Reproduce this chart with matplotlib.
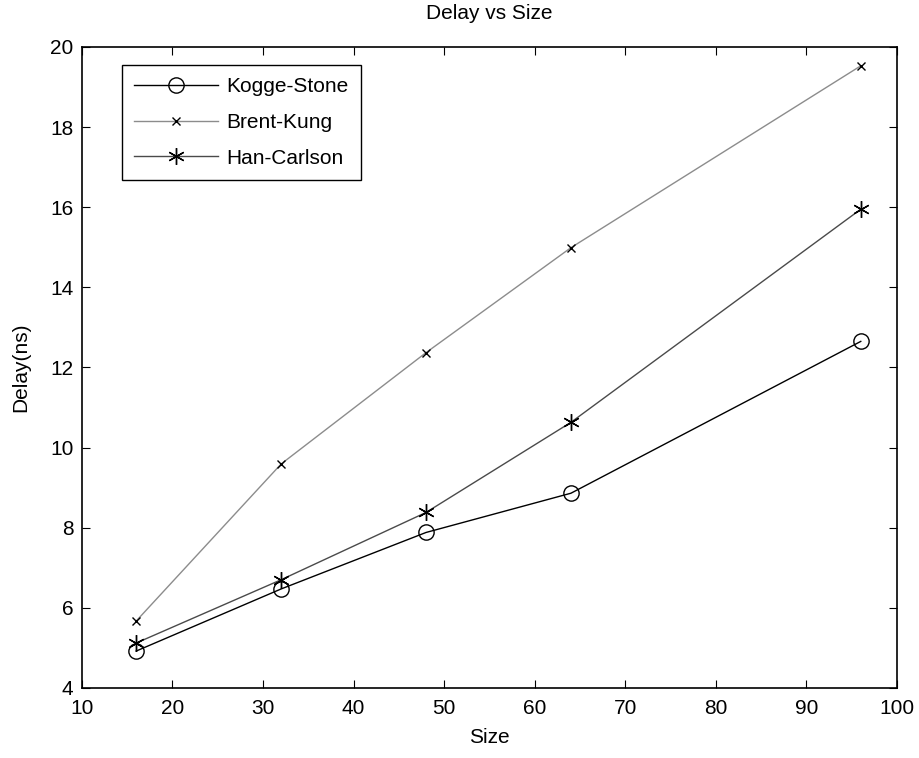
import numpy as np
import matplotlib.pyplot as plt

plt.rcParams['font.family'] = ['Liberation Sans', 'DejaVu Sans']

sizes = [16, 32, 48, 64, 96]
kogge_stone = [4.92, 6.47, 7.88, 8.86, 12.65]
brent_kung = [5.67, 9.59, 12.37, 14.99, 19.53]
han_carlson = [5.12, 6.70, 8.38, 10.63, 15.95]

fig = plt.figure(figsize=(9.2, 7.58), dpi=100)
ax = fig.add_axes([0.089, 0.0925, 0.886, 0.8455])

ax.plot(sizes, kogge_stone, color='black', lw=1, marker='o', ms=11,
        mfc='none', mec='black', mew=1, label='Kogge-Stone')
ax.plot(sizes, brent_kung, color='#8c8c8c', lw=1, marker='x', ms=6,
        mec='black', mew=1, label='Brent-Kung')
ax.plot(sizes, han_carlson, color='#4a4a4a', lw=1, marker=(6, 2, 0), ms=12,
        mec='black', mew=1, label='Han-Carlson')

ax.set_xlim(10, 100)
ax.set_ylim(4, 20)
ax.set_xticks(np.arange(10, 101, 10))
ax.set_yticks(np.arange(4, 21, 2))
ax.tick_params(direction='in', top=True, right=True, length=6, labelsize=15)
ax.tick_params(axis='x', pad=8)
ax.tick_params(axis='y', pad=6)
for s in ax.spines.values():
    s.set_linewidth(1.2)

ax.set_title('Delay vs Size', fontsize=15, pad=20)
ax.set_xlabel('Size', fontsize=15, labelpad=7)
ax.set_ylabel('Delay(ns)', fontsize=15, labelpad=14)

leg = ax.legend(loc='upper left', bbox_to_anchor=(0.049, 0.972), fontsize=15,
                borderaxespad=0, handlelength=4, fancybox=False, edgecolor='black',
                framealpha=1, borderpad=0.6, labelspacing=0.8, handletextpad=0.4)
leg.get_frame().set_linewidth(1)

fig.savefig('out.png', dpi=100)
